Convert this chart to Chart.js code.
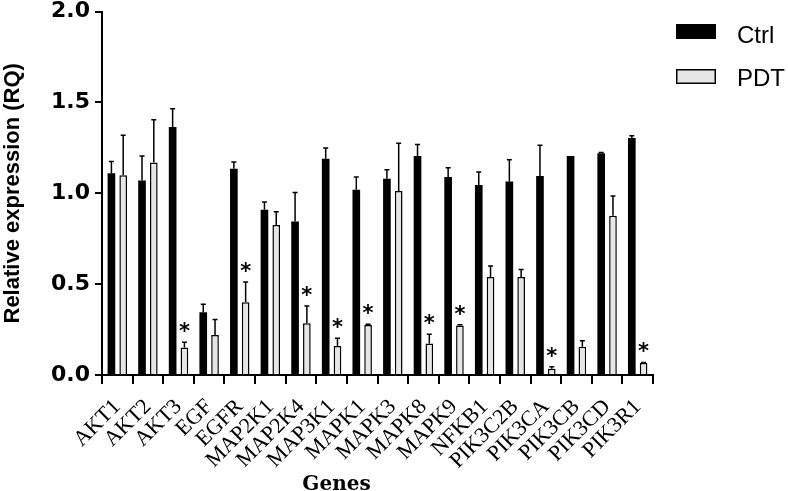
<!DOCTYPE html>
<html>
<head>
<meta charset="utf-8">
<title>Relative expression</title>
<script src="https://cdn.jsdelivr.net/npm/chart.js@4.4.0/dist/chart.umd.min.js"></script>
<style>
html, body { margin: 0; padding: 0; background: #fff; }
#wrap { width: 788px; height: 491px; }
</style>
</head>
<body>
<div id="wrap"><canvas id="barChart"></canvas></div>
<script>
var genes = ["AKT1", "AKT2", "AKT3", "EGF", "EGFR", "MAP2K1", "MAP2K4", "MAP3K1", "MAPK1",
    "MAPK3", "MAPK8", "MAPK9", "NFKB1", "PIK3C2B", "PIK3CA", "PIK3CB", "PIK3CD", "PIK3R1"];

var ctrlValues = [1.11, 1.07, 1.365, 0.345, 1.135, 0.91, 0.845, 1.19, 1.02,
    1.08, 1.205, 1.09, 1.045, 1.065, 1.095, 1.205, 1.22, 1.305];
var ctrlErrors = [0.065, 0.135, 0.10, 0.045, 0.037, 0.042, 0.16, 0.06, 0.07,
    0.05, 0.064, 0.05, 0.072, 0.12, 0.17, 0, 0.004, 0.012];

var pdtValues = [1.10, 1.17, 0.152, 0.22, 0.40, 0.825, 0.285, 0.16, 0.275,
    1.013, 0.174, 0.273, 0.54, 0.54, 0.035, 0.156, 0.877, 0.066];
var pdtErrors = [0.22, 0.235, 0.028, 0.086, 0.112, 0.073, 0.095, 0.042, 0.004,
    0.263, 0.05, 0.003, 0.06, 0.04, 0.011, 0.032, 0.108, 0.003];

// PDT vs Ctrl, marked with *
var significant = ["AKT3", "EGFR", "MAP2K4", "MAP3K1", "MAPK1", "MAPK8", "MAPK9", "PIK3CA", "PIK3R1"];

var seriesNames = ["Ctrl", "PDT"];
var seriesColors = ["#000000", "#e6e6e6"];

var errorBars = {
    id: 'errorBars',
    afterDatasetsDraw: function(chart) {
        var ctx = chart.ctx;
        var y = chart.scales.y;
        var errs = [ctrlErrors, pdtErrors];
        ctx.save();
        ctx.strokeStyle = '#000';
        ctx.lineWidth = 1.5;
        chart.data.datasets.forEach(function(ds, i) {
            chart.getDatasetMeta(i).data.forEach(function(bar, j) {
                var e = errs[i][j];
                if (!e) return;
                var top = y.getPixelForValue(ds.data[j] + e);
                ctx.beginPath();
                ctx.moveTo(bar.x, bar.y);
                ctx.lineTo(bar.x, top);
                ctx.moveTo(bar.x - 2.5, top);
                ctx.lineTo(bar.x + 2.5, top);
                ctx.stroke();
            });
        });

        // stars above the PDT bars
        ctx.fillStyle = '#000';
        ctx.font = 'bold 21px "DejaVu Sans"';
        ctx.textAlign = 'center';
        ctx.textBaseline = 'alphabetic';
        var m = ctx.measureText('*');
        var shift = (m.actualBoundingBoxAscent - m.actualBoundingBoxDescent) / 2;
        chart.getDatasetMeta(1).data.forEach(function(bar, j) {
            if (significant.indexOf(genes[j]) < 0) return;
            var top = y.getPixelForValue(pdtValues[j] + pdtErrors[j]);
            ctx.fillText('*', bar.x, top - 15 + shift);
        });
        ctx.restore();
    },
    afterDraw: function(chart) {
        var ctx = chart.ctx;
        var area = chart.chartArea;
        ctx.save();

        // legend
        ctx.font = '24px "Liberation Sans"';
        ctx.textAlign = 'left';
        ctx.textBaseline = 'alphabetic';
        ctx.lineWidth = 1.5;
        ctx.strokeStyle = '#000';
        var boxTop = [24, 69];
        var textBase = [43, 86];
        seriesNames.forEach(function(name, i) {
            var bx = area.right + 23;
            ctx.fillStyle = seriesColors[i];
            ctx.fillRect(bx, boxTop[i], 40, 15);
            if (i == 1) ctx.strokeRect(bx + 0.75, boxTop[i] + 0.75, 38.5, 13.5);
            ctx.fillStyle = '#000';
            ctx.fillText(name, bx + 61, textBase[i]);
        });

        // x axis title
        ctx.font = 'bold 20px "DejaVu Serif"';
        ctx.textAlign = 'center';
        ctx.fillText('Genes', (area.left + area.right) / 2 - 41, 490);
        ctx.restore();
    }
};

var bar = document.getElementById("barChart");
var chart1 = new Chart(bar, {
    type: 'bar',
    data: {
        labels: genes,
        datasets: [{
            label: seriesNames[0],
            data: ctrlValues,
            backgroundColor: seriesColors[0],
            borderWidth: 0,
            categoryPercentage: 0.77,
            barPercentage: 0.65
        }, {
            label: seriesNames[1],
            data: pdtValues,
            backgroundColor: seriesColors[1],
            borderColor: '#000',
            borderWidth: 1.5,
            categoryPercentage: 0.77,
            barPercentage: 0.65
        }]
    },
    options: {
        responsive: true,
        maintainAspectRatio: false,
        animation: false,
        layout: {
            padding: { top: 8, right: 135, left: 0, bottom: 0 }
        },
        plugins: {
            legend: { display: false },
            tooltip: { enabled: false }
        },
        scales: {
            x: {
                afterFit: function(s) { s.height = 116; },
                grid: { display: true, drawOnChartArea: false, drawTicks: true, tickLength: 9, color: '#000', lineWidth: 2 },
                border: { display: true, color: '#000', width: 2 },
                ticks: {
                    autoSkip: false,
                    maxRotation: 45,
                    minRotation: 45,
                    padding: 10,
                    color: '#000',
                    font: { family: 'Liberation Serif', size: 22 }
                }
            },
            y: {
                min: 0,
                max: 2,
                afterFit: function(s) { s.width = 102; },
                grid: { display: true, drawOnChartArea: false, drawTicks: true, tickLength: 7, color: '#000', lineWidth: 2 },
                border: { display: true, color: '#000', width: 2 },
                ticks: {
                    stepSize: 0.5,
                    padding: 5,
                    color: '#000',
                    font: { family: 'DejaVu Sans', size: 22, weight: 'bold', lineHeight: 0.6 },
                    callback: function(v) { return v.toFixed(1); }
                },
                title: {
                    display: true,
                    text: 'Relative expression (RQ)',
                    color: '#000',
                    padding: 0,
                    font: { family: 'Liberation Sans', size: 22, weight: 'bold' }
                }
            }
        }
    },
    plugins: [errorBars]
});
</script>
</body>
</html>
